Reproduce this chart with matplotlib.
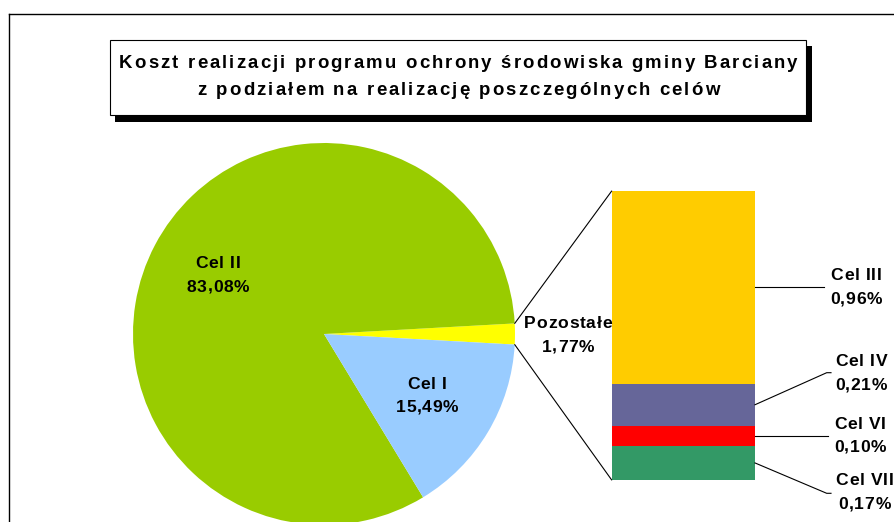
import matplotlib
matplotlib.use("Agg")
import matplotlib.pyplot as plt
from matplotlib.patches import Rectangle, ConnectionPatch
from matplotlib.lines import Line2D
from matplotlib import ft2font
from matplotlib.font_manager import FontProperties, findfont
import numpy as np

plt.rcParams['font.family'] = ['Liberation Sans', 'DejaVu Sans']

# ---- data ----
title_lines = ["Koszt realizacji programu ochrony środowiska gminy Barciany",
               "z podziałem na realizację poszczególnych celów"]
pie_labels = ["Pozostałe", "Cel II", "Cel I"]
pie_values = [1.77, 83.08, 15.49]
pie_value_text = ["1,77%", "83,08%", "15,49%"]
pie_colors = ["#FFFF00", "#99CC00", "#99CCFF"]

bar_labels = ["Cel VII", "Cel VI", "Cel IV", "Cel III"]   # bottom -> top
bar_values = [0.17, 0.10, 0.21, 0.96]
bar_value_text = ["0,17%", "0,10%", "0,21%", "0,96%"]
bar_colors = ["#339966", "#FF0000", "#666699", "#FFCC00"]

W, H = 895, 522
DPI = 100
fig = plt.figure(figsize=(W / DPI, H / DPI), dpi=DPI)
fig.patch.set_facecolor("white")


def fx(px):
    return px / W


def fy(py):
    return 1 - py / H


# --- letter-spaced text helper (real text, one glyph per Text) ---
_fp = FontProperties(family='Liberation Sans', weight='bold')
_fpath = findfont(_fp)
try:
    _NOH = ft2font.LoadFlags.NO_HINTING
except AttributeError:
    _NOH = ft2font.LOAD_NO_HINTING


def _advances(s, size_pt):
    f = ft2font.FT2Font(_fpath)
    f.set_size(size_pt, DPI)
    return [f.load_char(ord(c), flags=_NOH).linearHoriAdvance / 65536.0 for c in s]


def spaced_text(cx, baseline, s, size_pt, sp):
    adv = _advances(s, size_pt)
    total = sum(adv) + sp * (len(s) - 1)
    x = cx - total / 2.0
    for c, a in zip(s, adv):
        if c != " ":
            fig.text(fx(x), fy(baseline), c, ha="left", va="baseline",
                     fontsize=size_pt, fontweight="bold", fontfamily="Liberation Sans")
        x += a + sp


# outer frame lines (partially visible chart border)
fig.add_artist(Line2D([fx(8.5), 1.0], [fy(13.5), fy(13.5)], color="black", lw=1.0,
                      transform=fig.transFigure))
fig.add_artist(Line2D([fx(8.5), fx(8.5)], [fy(13.5), 0.0], color="black", lw=1.0,
                      transform=fig.transFigure))

# title box with shadow
bx0, by0, bx1, by1 = 110, 39.5, 806.5, 115
sh = 5.5
fig.add_artist(Rectangle((fx(bx0 + sh), fy(by1 + sh + 1)), fx(bx1 - bx0), (by1 - by0) / H,
                         transform=fig.transFigure, facecolor="black", edgecolor="black", lw=0))
fig.add_artist(Rectangle((fx(bx0), fy(by1)), fx(bx1 - bx0), (by1 - by0) / H,
                         transform=fig.transFigure, facecolor="white", edgecolor="black", lw=0.8))
title_cx = (bx0 + bx1) / 2
spaced_text(title_cx, 68.3, title_lines[0], 13.4, 2.1)
spaced_text(title_cx, 95, title_lines[1], 13.4, 2.1)

# ---- pie ----
pcx, pcy, r = 324, 334, 191
ax_pie = fig.add_axes([fx(pcx - r), fy(pcy + r), 2 * r / W, 2 * r / H])
total_pie = sum(pie_values)
start = -pie_values[0] / total_pie * 180.0
wedges, _ = ax_pie.pie(pie_values, colors=pie_colors, startangle=start, counterclock=True,
                       wedgeprops=dict(linewidth=0))
ax_pie.set_xlim(-1, 1)
ax_pie.set_ylim(-1, 1)
ax_pie.set_aspect("equal")
ax_pie.axis("off")

fs = 12.6
lsp = 0.7


def two_line(x, y1, y2, a, b):
    spaced_text(x, y1, a, fs, lsp)
    spaced_text(x, y2, b, fs, lsp)


# pie labels (positions in pixels)
pie_label_pos = {"Cel II": (218, 268, 292), "Cel I": (427, 388.7, 412.3),
                 "Pozostałe": (568, 328, 352)}
for lab, vt in zip(pie_labels, pie_value_text):
    x, y1, y2 = pie_label_pos[lab]
    two_line(x, y1, y2, lab, vt)

# ---- stacked bar ----
bl, bt, br, bb = 611.7, 191, 755, 480
ax_bar = fig.add_axes([fx(bl), fy(bb), (br - bl) / W, (bb - bt) / H])
bottoms = np.concatenate([[0], np.cumsum(bar_values)[:-1]])
ax_bar.bar([0] * len(bar_values), bar_values, bottom=bottoms, width=1.0,
           color=bar_colors, linewidth=0)
bar_total = sum(bar_values)
ax_bar.set_xlim(-0.5, 0.5)
ax_bar.set_ylim(0, bar_total)
ax_bar.axis("off")

# connectors pie -> bar
th1 = np.deg2rad(wedges[0].theta1)
th2 = np.deg2rad(wedges[0].theta2)
for th, yb in ((th2, bar_total), (th1, 0.0)):
    cp = ConnectionPatch(xyA=(np.cos(th), np.sin(th)), coordsA=ax_pie.transData,
                         xyB=(-0.5, yb), coordsB=ax_bar.transData, color="black", lw=0.8)
    fig.add_artist(cp)

# bar labels and leader lines
bar_label_pos = {
    "Cel III": (856, 280.3, 304.3, [(824, None)]),
    "Cel IV": (861, 366.3, 390.3, [(826.7, 372.7), (831, 372.7)]),
    "Cel VI": (860, 428.7, 452, [(828, None)]),
    "Cel VII": (864.5, 485.3, 509.3, [(826.7, 493.3), (831, 493.3)]),
}
inv = fig.transFigure.inverted()
for lab, v, b0, vt in zip(bar_labels, bar_values, bottoms, bar_value_text):
    x, y1, y2, pts = bar_label_pos[lab]
    two_line(x, y1, y2, lab, vt)
    sx, sy = inv.transform(ax_bar.transData.transform((0.5, b0 + v / 2)))
    xs, ys = [sx], [sy]
    for (px_, py_) in pts:
        xs.append(fx(px_))
        ys.append(sy if py_ is None else fy(py_))
    fig.add_artist(Line2D(xs, ys, color="black", lw=0.8, transform=fig.transFigure))

fig.savefig("out.png", dpi=DPI, facecolor="white")
